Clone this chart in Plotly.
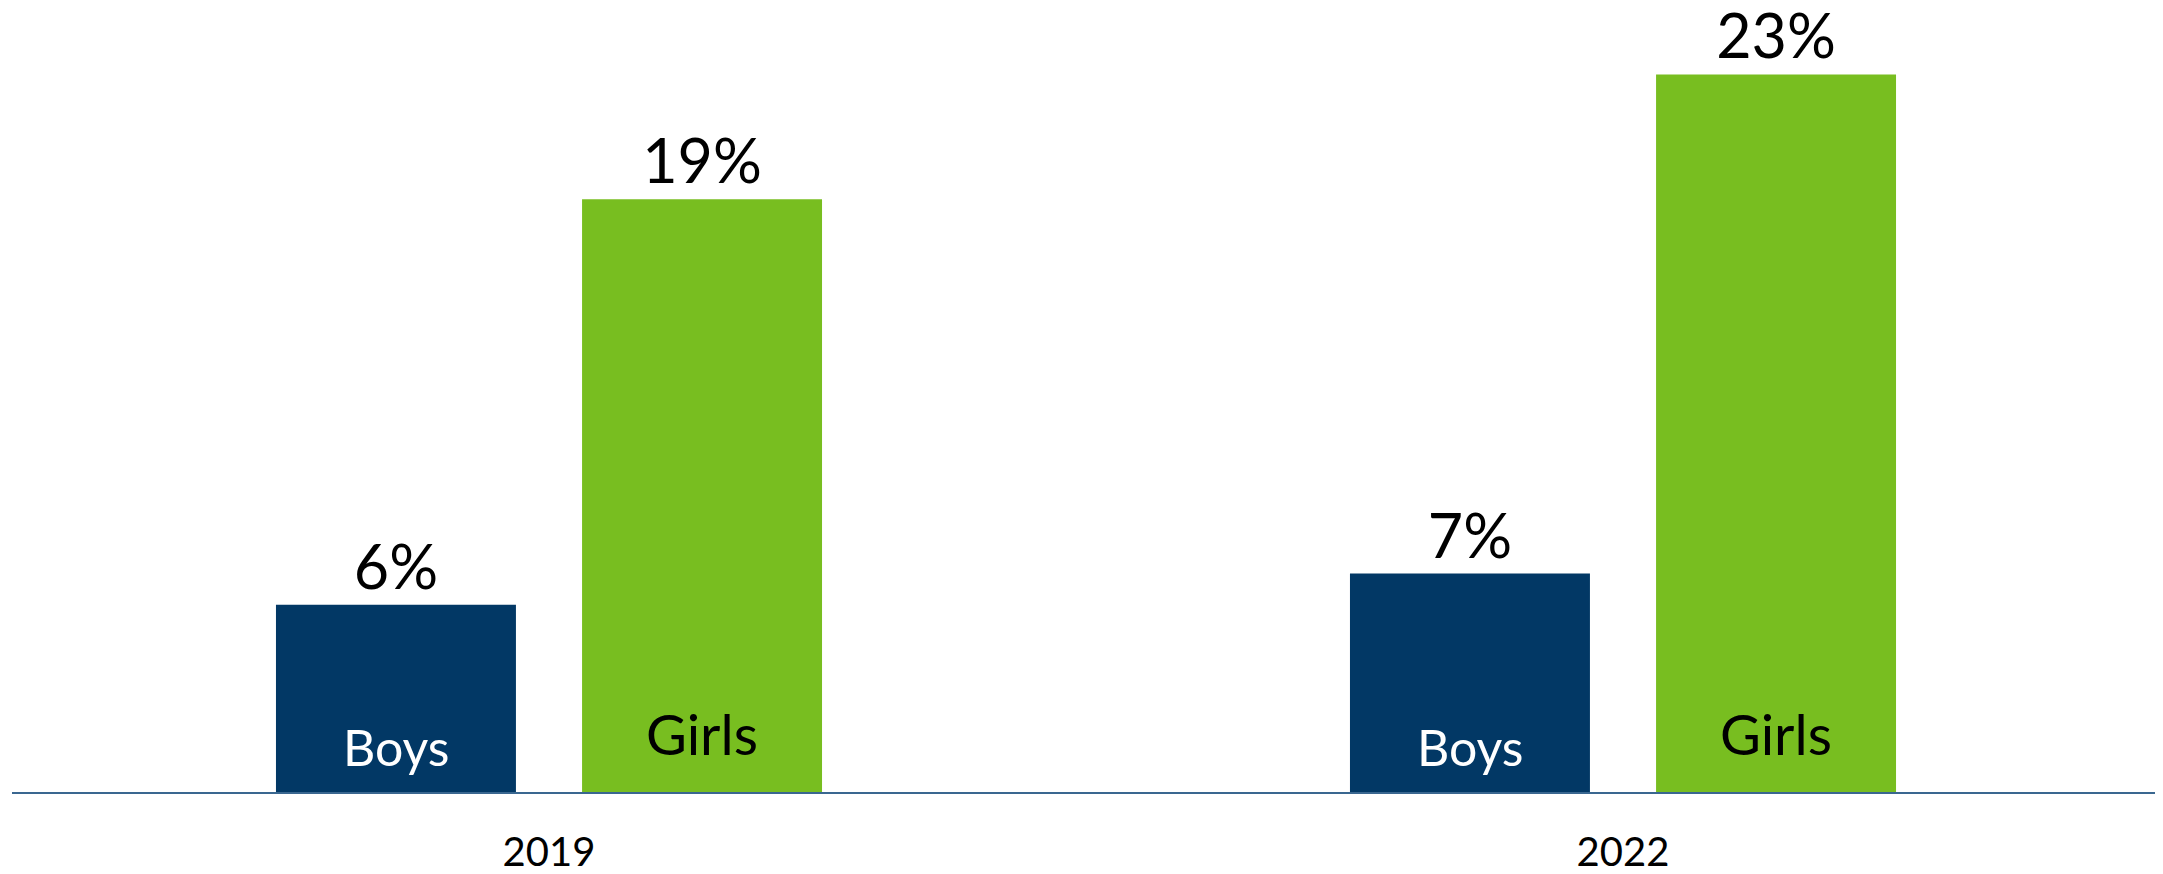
import plotly.graph_objects as go

years = ["2019", "2022"]
boys = [6, 7]
girls = [19, 23]
series_names = ["Boys", "Girls"]

W, H = 2163, 874
ML, MR, MT, MB = 4, 11, 4, 90
BARGAP = 0.43
BARGROUPGAP = 0.216
NAVY = "#023865"
GREEN = "#78BE20"
FONT = "Lato"

fig = go.Figure()
fig.add_trace(go.Bar(
    x=years, y=boys, name=series_names[0], marker_color=NAVY, marker_line_width=0,
    text=[f"{v}%" for v in boys], textposition="outside", cliponaxis=False,
    textfont=dict(family=FONT, size=61, color="black"),
))
fig.add_trace(go.Bar(
    x=years, y=girls, name=series_names[1], marker_color=GREEN, marker_line_width=0,
    text=[f"{v}%" for v in girls], textposition="outside", cliponaxis=False,
    textfont=dict(family=FONT, size=61, color="black"),
))

# in-bar series labels, placed at each bar's centre (offset computed from layout)
cat_w = (W - ML - MR) / len(years)
slot = cat_w * (1 - BARGAP) / 2
offsets = [-slot / 2, slot / 2]
label_colors = ["white", "black"]
label_sizes = [50, 56]
label_lift = [13, 23]
for i, yr in enumerate(years):
    for name, off, col, sz, lift in zip(series_names, offsets, label_colors, label_sizes, label_lift):
        fig.add_annotation(
            x=i, y=0, xref="x", yref="y", xshift=off, yshift=lift,
            yanchor="bottom", showarrow=False, text=name,
            font=dict(family=FONT, size=sz, color=col),
        )

fig.update_layout(
    width=W, height=H,
    margin=dict(l=ML, r=MR, t=MT, b=MB),
    barmode="group", bargap=BARGAP, bargroupgap=BARGROUPGAP,
    plot_bgcolor="white", paper_bgcolor="white",
    showlegend=False,
    font=dict(family=FONT),
)
fig.update_xaxes(
    type="category", range=[-0.5, len(years) - 0.5], automargin=False,
    showline=True, linecolor="#3a6790", linewidth=2,
    showgrid=False, ticks="outside", ticklen=24, tickcolor="rgba(0,0,0,0)",
    tickfont=dict(family=FONT, size=40, color="black"),
)
fig.update_yaxes(range=[0, 25], visible=False, showgrid=False, zeroline=False)

fig.write_html("out.html")
